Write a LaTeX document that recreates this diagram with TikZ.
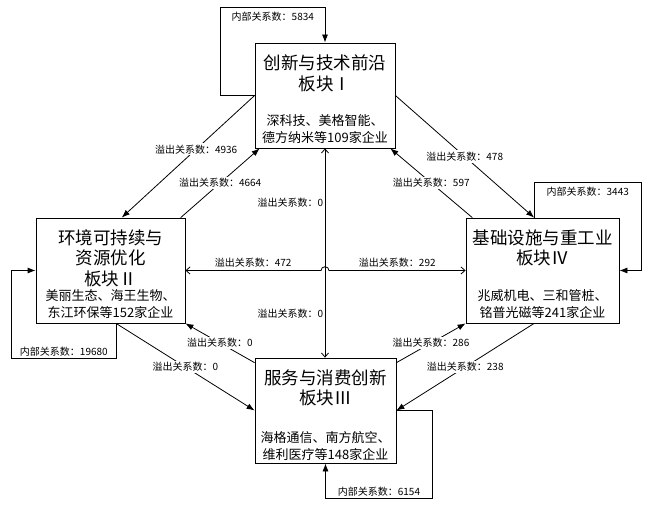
\documentclass[tikz,border=0pt]{standalone}
\usepackage{fontspec}
\setmainfont{Noto Sans CJK SC}
\usetikzlibrary{arrows.meta,positioning}

\begin{document}
\begin{tikzpicture}[x=1pt,y=-1pt,line width=0.8pt,
  -{Latex[length=8pt,width=6pt]},
  block/.style={draw,minimum width=#1,minimum height=105pt,inner sep=0pt},
  head/.style={inner sep=0pt,align=center,font=\fontsize{17.5}{20.5}\selectfont},
  sub/.style={inner sep=0pt,align=center,font=\fontsize{13}{17}\selectfont},
  tag/.style={fill=white,inner sep=1.5pt,font=\fontsize{10}{12}\selectfont},
  both/.style={{Straight Barb[length=4pt,width=7pt]}-{Straight Barb[length=4pt,width=7pt]}}]

\useasboundingbox (0,0) rectangle (650,510);

\node[block=140pt] (I) at (325,95.5) {};
\node[head,below=12pt of I.north] (Ih) {创新与技术前沿\\板块Ⅰ};
\node[sub,above=4pt of I.south] (Is) {深科技、美格智能、\\德方纳米等109家企业};

\node[block=149pt] (II) at (110.5,270.5) {};
\node[head,below=11.5pt of II.north] (IIh) {环境可持续与\\资源优化\\板块Ⅱ};
\node[sub,above=4pt of II.south] (IIs) {美丽生态、海王生物、\\东江环保等152家企业};

\node[block=141pt] (III) at (325.5,410.5) {};
\node[head,below=11.5pt of III.north] (IIIh) {服务与消费创新\\板块Ⅲ};
\node[sub,above=2pt of III.south] (IIIs) {海格通信、南方航空、\\维利医疗等148家企业};

\node[block=153pt] (IV) at (542.5,270.5) {};
\node[head,below=11.5pt of IV.north] (IVh) {基础设施与重工业\\板块Ⅳ};
\node[sub,above=4pt of IV.south] (IVs) {兆威机电、三和管桩、\\铭普光磁等241家企业};

% spillover between blocks
\path (I.west) edge node[tag,pos=0.44] (s12) {溢出关系数：4936} (II.78);
\path (II.37) edge node[tag] (s21) {溢出关系数：4664} (I.219);
\path (I.east) edge node[tag] (s14) {溢出关系数：478} (IV.99);
\path (IV.143) edge node[tag] (s41) {溢出关系数：597} (I.321);
\path (II.-84) edge node[tag] (s23) {溢出关系数：0} (III.west);
\path (III.146) edge node[tag] (s32) {溢出关系数：0} (II.south east);
\path (III.34) edge node[tag] (s34) {溢出关系数：286} (IV.south west);
\path (IV.261) edge node[tag] (s43) {溢出关系数：238} (III.east);

\draw[both] (I.south) -- node[tag,left,pos=0.26] (s13) {溢出关系数：0}
  node[tag,left,pos=0.79] (s31) {溢出关系数：0} (I.south |- III.north);

\coordinate (X) at (I.south |- II.east);
\draw[both] (II.east) -- node[tag,above=1pt] (s42) {溢出关系数：472} ([xshift=-4pt]X)
  .. controls ([xshift=-4pt,yshift=5pt]X) and ([xshift=4pt,yshift=5pt]X) .. ([xshift=4pt]X)
  -- node[tag,above=1pt] (s24) {溢出关系数：292} (IV.west);

% inner relations
\draw (I.west) -- ++(-34,0) |- node[tag,below=3pt,pos=0.75] (r1) {内部关系数：5834} ([yshift=35pt]I.north) -- (I.north);
\draw (II.-84) -- ([yshift=-35pt]II.-84) -| node[tag,above,pos=0.25] (r2) {内部关系数：19680} ([xshift=-24pt]II.west) -- (II.west);
\draw (IV.99) -- ([yshift=35pt]IV.99) -| node[tag,below=3pt,pos=0.25] (r4) {内部关系数：3443} ([xshift=22pt]IV.east) -- (IV.east);
\draw (III.east) -- ([xshift=36pt]III.east) |- node[tag,above,pos=0.75] (r3) {内部关系数：6154} ([yshift=-35pt]III.south) -- (III.south);

\end{tikzpicture}
\end{document}
